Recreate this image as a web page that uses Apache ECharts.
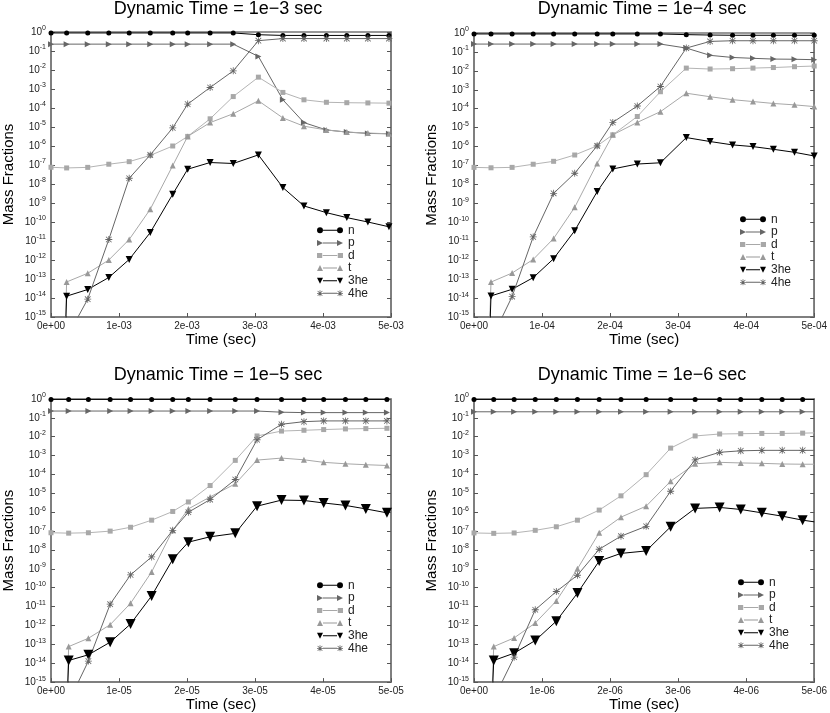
<!DOCTYPE html>
<html>
<head>
<meta charset="utf-8">
<script src="https://cdn.jsdelivr.net/npm/echarts@6/dist/echarts.min.js"></script>
<style>
  html, body { margin: 0; padding: 0; background: #fff; }
  #chart { width: 830px; height: 713px; }
</style>
</head>
<body>
<div id="chart"></div>
<script>
// species and panel captions
var species = ['n', 'p', 'd', 't', '3he', '4he'];
var panelTitles = ['Dynamic Time = 1e\u22123 sec', 'Dynamic Time = 1e\u22124 sec',
                   'Dynamic Time = 1e\u22125 sec', 'Dynamic Time = 1e\u22126 sec'];
var timeExp = ['03', '04', '05', '06'];   // x tick labels: N e-XX
var xTicks = [0, 1, 2, 3, 4, 5];

// panel 1 : dynamic time 1e-3 (time in units of 1e-3 s)
var time1 = [0, 0.23, 0.54, 0.85, 1.15, 1.46, 1.79, 2.01, 2.34, 2.68, 3.05, 3.41, 3.72, 4.05, 4.35, 4.66, 4.97];
var n1   = [0.89, 0.89, 0.89, 0.89, 0.89, 0.89, 0.89, 0.89, 0.89, 0.89, 0.72, 0.66, 0.66, 0.66, 0.66, 0.66, 0.66];
var p1   = [0.23, 0.23, 0.23, 0.23, 0.23, 0.23, 0.23, 0.23, 0.23, 0.23, 5.2e-2, 2.7e-4, 1.7e-5, 7e-6, 5.4e-6, 4.6e-6, 4.4e-6];
var d1   = [7.6e-8, 7e-8, 7.5e-8, 1.1e-7, 1.5e-7, 3.2e-7, 1e-6, 3.2e-6, 2.7e-5, 4e-4, 4.2e-3, 6.6e-4, 2.7e-4, 2e-4, 1.9e-4, 1.85e-4, 1.8e-4];
var t1   = [1e-40, 7e-14, 2e-13, 1e-12, 1.2e-11, 4.7e-10, 9.3e-8, 3.2e-6, 1.7e-5, 5e-5, 2.4e-4, 3e-5, 1.1e-5, 7e-6, 5.4e-6, 4.8e-6, 4.4e-6];
var he3_1 = [1e-40, 1.25e-14, 2.8e-14, 1.2e-13, 1.07e-12, 2.8e-11, 2.9e-9, 6e-8, 1.35e-7, 1.2e-7, 3.4e-7, 6.5e-9, 7e-10, 3.1e-10, 1.7e-10, 1e-10, 5.6e-11];
var he4_1 = [1e-40, 8e-17, 8.7e-15, 1.2e-11, 2e-8, 3.4e-7, 9e-6, 1.6e-4, 1.2e-3, 9e-3, 0.35, 0.45, 0.45, 0.45, 0.45, 0.45, 0.45];

// panel 2 : dynamic time 1e-4
var time2 = [0, 0.25, 0.56, 0.87, 1.17, 1.48, 1.81, 2.04, 2.40, 2.74, 3.12, 3.47, 3.80, 4.10, 4.40, 4.71, 5.00];
var n2   = [0.89, 0.89, 0.89, 0.89, 0.89, 0.89, 0.89, 0.89, 0.89, 0.89, 0.82, 0.78, 0.76, 0.76, 0.76, 0.76, 0.76];
var p2   = [0.26, 0.26, 0.26, 0.26, 0.26, 0.26, 0.26, 0.26, 0.26, 0.26, 0.16, 0.066, 0.051, 0.046, 0.042, 0.041, 0.039];
var d2   = [8e-8, 7.6e-8, 8e-8, 1.17e-7, 1.67e-7, 3.6e-7, 1.1e-6, 4.2e-6, 3.9e-5, 7.9e-4, 1.4e-2, 1.25e-2, 1.3e-2, 1.4e-2, 1.5e-2, 1.66e-2, 1.8e-2];
var t2   = [1e-40, 7e-14, 2.1e-13, 1.1e-12, 1.4e-11, 6.2e-10, 1.3e-7, 4.2e-6, 1.9e-5, 7e-5, 6.6e-4, 4.3e-4, 3e-4, 2.4e-4, 1.9e-4, 1.6e-4, 1.3e-4];
var he3_2 = [1e-40, 1.3e-14, 2.9e-14, 1.2e-13, 1.2e-12, 3.6e-11, 4.2e-9, 6.6e-8, 1.2e-7, 1.4e-7, 3e-6, 1.85e-6, 1.23e-6, 1e-6, 7.2e-7, 5e-7, 3.2e-7];
var he4_2 = [1e-40, 6e-17, 1.2e-14, 1.7e-11, 3.4e-9, 3.9e-8, 1.1e-6, 1.9e-5, 1.4e-4, 1.5e-3, 0.16, 0.36, 0.39, 0.39, 0.39, 0.39, 0.39];

// panel 3 : dynamic time 1e-5
var time3 = [0, 0.26, 0.55, 0.87, 1.17, 1.48, 1.79, 2.02, 2.34, 2.71, 3.03, 3.39, 3.72, 4.01, 4.33, 4.63, 4.94];
var n3   = [0.95, 0.95, 0.95, 0.95, 0.95, 0.95, 0.95, 0.95, 0.95, 0.95, 0.95, 0.95, 0.95, 0.95, 0.95, 0.95, 0.95];
var p3   = [0.23, 0.23, 0.23, 0.23, 0.23, 0.23, 0.23, 0.23, 0.23, 0.23, 0.23, 0.2, 0.19, 0.19, 0.19, 0.19, 0.19];
var d3   = [8.2e-8, 7.8e-8, 8.2e-8, 1e-7, 1.6e-7, 3.8e-7, 1.1e-6, 3.5e-6, 2.6e-5, 5.6e-4, 1.1e-2, 2e-2, 2.2e-2, 2.4e-2, 2.6e-2, 2.7e-2, 2.8e-2];
var t3   = [1e-40, 7.6e-14, 2.1e-13, 1.1e-12, 1.5e-11, 6.9e-10, 1.1e-7, 1.5e-6, 6.5e-6, 3.2e-5, 5.8e-4, 7.4e-4, 6e-4, 4.4e-4, 3.7e-4, 3.3e-4, 3e-4];
var he3_3 = [1e-40, 1.4e-14, 2.8e-14, 1.3e-13, 1.2e-12, 3.7e-11, 3.2e-9, 2.6e-8, 5e-8, 7.6e-8, 2.1e-6, 4.4e-6, 4.2e-6, 3.1e-6, 2.3e-6, 1.5e-6, 9.3e-7];
var he4_3 = [1e-40, 9e-17, 1.3e-14, 1.35e-11, 4.8e-10, 4.3e-9, 1.1e-7, 1e-6, 4.7e-6, 5.4e-5, 6.9e-3, 4.6e-2, 6.3e-2, 6.9e-2, 6.9e-2, 6.9e-2, 6.9e-2];

// panel 4 : dynamic time 1e-6 (last point has no marker)
var time4 = [0, 0.29, 0.59, 0.90, 1.21, 1.52, 1.84, 2.16, 2.53, 2.89, 3.25, 3.61, 3.92, 4.23, 4.53, 4.83, 5.00];
var n4   = [0.95, 0.95, 0.95, 0.95, 0.95, 0.95, 0.95, 0.95, 0.95, 0.95, 0.95, 0.95, 0.95, 0.95, 0.95, 0.95, 0.95];
var p4   = [0.21, 0.21, 0.21, 0.21, 0.21, 0.21, 0.21, 0.21, 0.21, 0.21, 0.21, 0.21, 0.21, 0.21, 0.21, 0.21, 0.21];
var d4   = [8e-8, 7.6e-8, 8e-8, 1.1e-7, 1.7e-7, 3.8e-7, 1.3e-6, 7.4e-6, 9.8e-5, 2.5e-3, 1.1e-2, 1.4e-2, 1.45e-2, 1.5e-2, 1.5e-2, 1.55e-2, 1.6e-2];
var t4   = [1e-40, 7.6e-14, 2.2e-13, 1.35e-12, 2e-11, 1e-9, 8.2e-8, 5.5e-7, 2.1e-6, 4.4e-5, 3.7e-4, 4.4e-4, 4.1e-4, 3.9e-4, 3.6e-4, 3.5e-4, 3.5e-4];
var he3_4 = [1e-40, 1.4e-14, 3.4e-14, 1.6e-13, 1.7e-12, 5.2e-11, 2.6e-9, 6.6e-9, 8.9e-9, 1.7e-7, 1.6e-6, 1.8e-6, 1.4e-6, 9.3e-7, 6.2e-7, 3.8e-7, 3.1e-7];
var he4_4 = [1e-40, 1.3e-16, 2.1e-14, 6.8e-12, 6.3e-11, 4.6e-10, 1.1e-8, 5.4e-8, 1.8e-7, 1.3e-5, 6e-4, 1.5e-3, 1.8e-3, 1.9e-3, 1.9e-3, 1.9e-3, 1.9e-3];

var times  = [time1, time2, time3, time4];
var values = [[n1, p1, d1, t1, he3_1, he4_1],
              [n2, p2, d2, t2, he3_2, he4_2],
              [n3, p3, d3, t3, he3_3, he4_3],
              [n4, p4, d4, t4, he3_4, he4_4]];
var markerCount = [17, 17, 17, 16];

// styles
var lineColors = ['#000000', '#666666', '#b4b4b4', '#a8a8a8', '#000000', '#666666'];
var symColors  = ['#000000', '#666666', '#a8a8a8', '#999999', '#000000', '#666666'];
var starPath = 'path://M4.4,0H5.6V4.4H10V5.6H5.6V10H4.4V5.6H0V4.4H4.4Z' +
               'M0.6,1.4L1.4,0.6L9.4,8.6L8.6,9.4Z M8.6,0.6L9.4,1.4L1.4,9.4L0.6,8.6Z';
var symbols = ['circle', 'path://M0,0L10,5L0,10Z', 'rect', 'triangle',
               'path://M0,0L10,0L5,10Z', starPath];
var symSizes = [5, 6, 5, 6, 7, 7];

// legend keys: a line with the marker at both ends (26 x 6 box)
function endMarks(fn) { return fn(0) + ' ' + fn(20); }
var keyLine = 'M6,2.5H20V3.5H6Z ';
var legendIcons = [
    'path://' + keyLine + endMarks(function (x) { return 'M' + x + ',3a3,3 0 1,0 6,0a3,3 0 1,0 -6,0Z'; }),
    'path://' + keyLine + endMarks(function (x) { return 'M' + x + ',0L' + (x + 6) + ',3L' + x + ',6Z M' + x + ',2.5H' + (x + 2) + 'V3.5H' + x + 'Z'; }),
    'path://' + keyLine + endMarks(function (x) { return 'M' + (x + 0.5) + ',0.5H' + (x + 5.5) + 'V5.5H' + (x + 0.5) + 'Z'; }),
    'path://' + keyLine + endMarks(function (x) { return 'M' + x + ',6L' + (x + 3) + ',0L' + (x + 6) + ',6Z'; }),
    'path://' + keyLine + endMarks(function (x) { return 'M' + x + ',0H' + (x + 6) + 'L' + (x + 3) + ',6Z'; }),
    'path://' + keyLine + endMarks(function (x) {
        return 'M' + (x + 2.6) + ',0H' + (x + 3.4) + 'V6H' + (x + 2.6) + 'Z' +
               'M' + x + ',2.6H' + (x + 6) + 'V3.4H' + x + 'Z' +
               'M' + (x + 0.4) + ',0.9L' + (x + 0.9) + ',0.4L' + (x + 5.6) + ',5.1L' + (x + 5.1) + ',5.6Z' +
               'M' + (x + 5.1) + ',0.4L' + (x + 5.6) + ',0.9L' + (x + 0.9) + ',5.6L' + (x + 0.4) + ',5.1Z';
    })
];

var grids = [
    {left: 50, top: 32, width: 341, height: 285},
    {left: 474, top: 33, width: 341, height: 284},
    {left: 50, top: 399, width: 341, height: 284},
    {left: 474, top: 399, width: 341, height: 284}
];
var titlePos = [[218, 0], [642, 0], [218, 366], [642, 366]];
var legendPos = [[317, 224], [740, 213], [317, 579], [738, 576]];

var chart = document.getElementById('chart');
var myChart = echarts.init(chart);

var option = {
    backgroundColor: '#fff',
    animation: false,
    textStyle: {fontFamily: 'Liberation Sans, Arial, sans-serif'},
    title: [], grid: [], xAxis: [], yAxis: [], legend: [], series: []
};

for (var g = 0; g < 4; g++) {
    option.title.push({
        text: panelTitles[g], left: titlePos[g][0], top: titlePos[g][1], textAlign: 'center', padding: 0,
        textStyle: {fontSize: 18, fontWeight: 'normal', color: '#000'}
    });
    option.grid.push({
        left: grids[g].left, top: grids[g].top, width: grids[g].width, height: grids[g].height,
        show: true, borderColor: '#777', borderWidth: 1.5
    });
    (function (exp) {
        option.xAxis.push({
            type: 'value', gridIndex: g, min: xTicks[0], max: xTicks[xTicks.length - 1], interval: 1,
            name: 'Time (sec)', nameLocation: 'middle', nameGap: 14,
            nameTextStyle: {fontSize: 15, color: '#000'},
            axisLine: {lineStyle: {color: '#777', width: 1.5}},
            axisTick: {inside: true, length: 4, lineStyle: {color: '#555'}},
            axisLabel: {fontSize: 10, color: '#222', margin: 4,
                formatter: function (v) { return v === 0 ? '0e+00' : v + 'e-' + exp; }},
            splitLine: {show: false}
        });
    })(timeExp[g]);
    var logLabel = {
        fontSize: 10, color: '#222', margin: 5,
        formatter: function (v) {
            var e = Math.round(Math.log10(v));
            return '{b|10}{s|' + (e === 0 ? '0' : '-' + (-e)) + '}';
        },
        rich: {
            b: {fontSize: 10, color: '#222', lineHeight: 14},
            s: {fontSize: 7, color: '#222', lineHeight: 6, verticalAlign: 'top'}
        }
    };
    option.yAxis.push({
        type: 'log', logBase: 10, gridIndex: g, min: 1e-15, max: 1, interval: 1,
        name: 'Mass Fractions', nameLocation: 'middle', nameGap: 35,
        nameTextStyle: {fontSize: 15, color: '#000'},
        axisLine: {lineStyle: {color: '#777', width: 1.5}},
        axisTick: {inside: true, length: 4, lineStyle: {color: '#555'}},
        axisLabel: logLabel,
        splitLine: {show: false}
    });
    option.yAxis.push({
        type: 'log', logBase: 10, gridIndex: g, position: 'right', min: 1e-15, max: 1, interval: 1,
        axisLine: {show: true, lineStyle: {color: '#777', width: 1.5}},
        axisTick: {inside: true, length: 4, lineStyle: {color: '#555'}},
        axisLabel: {show: false},
        splitLine: {show: false}
    });
    option.legend.push({
        left: legendPos[g][0], top: legendPos[g][1], orient: 'vertical', padding: 0,
        itemWidth: 26, itemHeight: 6, itemGap: 0, selectedMode: false,
        textStyle: {fontSize: 12, color: '#222', lineHeight: 12.6},
        data: species.map(function (name, k) { return {name: name, icon: legendIcons[k]}; })
    });

    for (var s = 0; s < species.length; s++) {
        var data = [];
        for (var i = 0; i < times[g].length; i++) {
            var item = {value: [times[g][i], values[g][s][i]]};
            if (i >= markerCount[g]) item.symbol = 'none';
            data.push(item);
        }
        var size = symSizes[s];
        if (s === 4 && g >= 2) size = 10;   // bigger 3he markers in lower panels
        option.series.push({
            name: species[s], type: 'line', xAxisIndex: g, yAxisIndex: g * 2,
            data: data, clip: true,
            symbol: symbols[s], symbolSize: size, showAllSymbol: true,
            lineStyle: {color: lineColors[s], width: 1},
            itemStyle: {color: symColors[s]}
        });
    }
}

myChart.setOption(option);
</script>
</body>
</html>
